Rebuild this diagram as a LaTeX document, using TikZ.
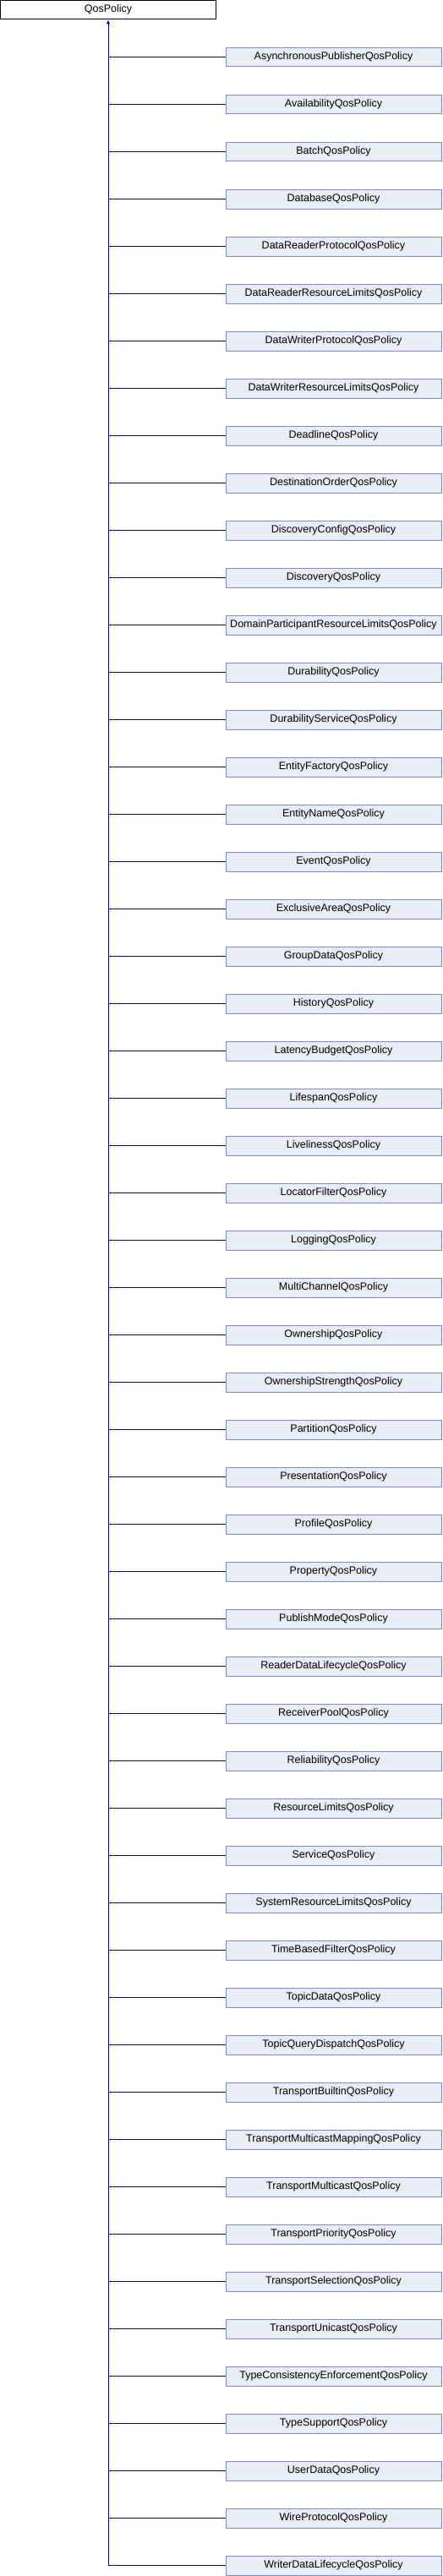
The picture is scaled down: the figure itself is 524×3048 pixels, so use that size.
\documentclass[tikz,border=0pt]{standalone}
\usepackage{fontspec}
\setmainfont{Liberation Sans}
\usetikzlibrary{arrows.meta}
\definecolor{edgeblue}{RGB}{0,0,160}
\definecolor{boxfill}{RGB}{232,236,245}
\definecolor{boxline}{RGB}{122,142,204}
\begin{document}
\begin{tikzpicture}[x=1pt,y=-1pt,
  basebox/.style={draw=black,fill=white,line width=0.9pt,minimum width=255pt,minimum height=22.5pt,inner sep=0pt,font=\fontsize{12.5}{14}\selectfont},
  childbox/.style={draw=boxline,fill=boxfill,line width=0.9pt,minimum width=255pt,minimum height=22.5pt,inner sep=0pt,font=\fontsize{12.5}{14}\selectfont},
  conn/.style={draw=edgeblue,line width=0.9pt},
  tip/.style={-{Latex[length=5pt,width=4.5pt]}}]
\useasboundingbox (0,0) rectangle (524,3048);
\node[basebox] (base) at (128,11.7) {QosPolicy};
\foreach \nm [count=\i] in {AsynchronousPublisherQosPolicy,AvailabilityQosPolicy,BatchQosPolicy,DatabaseQosPolicy,DataReaderProtocolQosPolicy,DataReaderResourceLimitsQosPolicy,DataWriterProtocolQosPolicy,DataWriterResourceLimitsQosPolicy,DeadlineQosPolicy,DestinationOrderQosPolicy,DiscoveryConfigQosPolicy,DiscoveryQosPolicy,DomainParticipantResourceLimitsQosPolicy,DurabilityQosPolicy,DurabilityServiceQosPolicy,EntityFactoryQosPolicy,EntityNameQosPolicy,EventQosPolicy,ExclusiveAreaQosPolicy,GroupDataQosPolicy,HistoryQosPolicy,LatencyBudgetQosPolicy,LifespanQosPolicy,LivelinessQosPolicy,LocatorFilterQosPolicy,LoggingQosPolicy,MultiChannelQosPolicy,OwnershipQosPolicy,OwnershipStrengthQosPolicy,PartitionQosPolicy,PresentationQosPolicy,ProfileQosPolicy,PropertyQosPolicy,PublishModeQosPolicy,ReaderDataLifecycleQosPolicy,ReceiverPoolQosPolicy,ReliabilityQosPolicy,ResourceLimitsQosPolicy,ServiceQosPolicy,SystemResourceLimitsQosPolicy,TimeBasedFilterQosPolicy,TopicDataQosPolicy,TopicQueryDispatchQosPolicy,TransportBuiltinQosPolicy,TransportMulticastMappingQosPolicy,TransportMulticastQosPolicy,TransportPriorityQosPolicy,TransportSelectionQosPolicy,TransportUnicastQosPolicy,TypeConsistencyEnforcementQosPolicy,TypeSupportQosPolicy,UserDataQosPolicy,WireProtocolQosPolicy,WriterDataLifecycleQosPolicy} {
  \node[childbox] (c\i) at (394.5,{11.7+56*\i}) {\nm};
  \coordinate (j\i) at (128,{11.7+56*\i});
  \draw[conn] (c\i.west) -- (j\i);
}
\draw[conn,tip] (j54) -- (base.south);
\end{tikzpicture}
\end{document}
